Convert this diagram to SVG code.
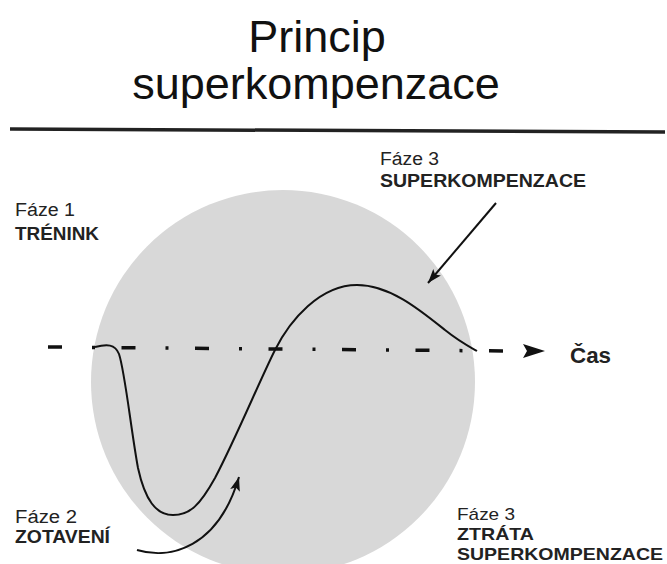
<svg xmlns="http://www.w3.org/2000/svg" width="667" height="564" viewBox="0 0 667 564">
<style>
.title{font-family:"Liberation Sans",Arial,sans-serif;font-size:45px;fill:#111;text-anchor:middle}
.lbl{font-family:"Liberation Sans",Arial,sans-serif;font-size:18px;fill:#222}
.sm{font-size:17px}
.b{font-weight:bold}
.ln{fill:none;stroke:#111;stroke-width:2}
</style>
<defs>
<marker id="ah" markerUnits="userSpaceOnUse" viewBox="0 0 14 10" markerWidth="14" markerHeight="10" refX="14" refY="5" orient="auto">
<path d="M0,0 L14,5 L0,10 L3,5 Z" fill="#111"/>
</marker>
</defs>
<rect width="667" height="564" fill="#ffffff"/>
<g id="title">
<text class="title" x="317" y="52">Princip</text>
<text class="title" x="316" y="99">superkompenzace</text>
<path d="M10 129 L665 132" stroke="#222" stroke-width="3.5" fill="none"/>
</g>
<g id="circle">
<circle cx="283" cy="382" r="192" fill="#d8d8d8"/>
</g>
<g id="connectors">
<path id="axis" d="M48 347 L504 351" fill="none" stroke="#111" stroke-width="3.5" stroke-dasharray="14 30 3 26.5"/>
<polygon points="523,344 545,351 523,358 527,351" fill="#111"/>
<path id="curve" class="ln" d="M95 347 C107 344,115 344,119 354 C125 372,131 430,138 468 C145 500,156 515,173 515 C190 515,200 505,215 478 C235 440,260 380,275 350 C290 320,320 285,357 285 C390 285,420 310,445 330 C460 342,470 347,477 351"/>
<path id="arrow3" class="ln" d="M496 203 L428 283" marker-end="url(#ah)"/>
<path id="arrow2" class="ln" d="M137 550 C170 560,218 548,239 477" marker-end="url(#ah)"/>
</g>
<g id="label-faze1">
<text class="lbl" x="15" y="216" textLength="60" lengthAdjust="spacingAndGlyphs">Fáze 1</text>
<text class="lbl b" x="15" y="240" textLength="84" lengthAdjust="spacingAndGlyphs">TRÉNINK</text>
</g>
<g id="label-faze3">
<text class="lbl" x="380" y="165" textLength="59" lengthAdjust="spacingAndGlyphs">Fáze 3</text>
<text class="lbl b" x="380" y="187" textLength="206" lengthAdjust="spacingAndGlyphs">SUPERKOMPENZACE</text>
</g>
<g id="label-faze2">
<text class="lbl" x="15" y="523" textLength="62" lengthAdjust="spacingAndGlyphs">Fáze 2</text>
<text class="lbl b" x="15" y="543" textLength="95" lengthAdjust="spacingAndGlyphs">ZOTAVENÍ</text>
</g>
<g id="label-faze3b">
<text class="lbl sm" x="457" y="520" textLength="58" lengthAdjust="spacingAndGlyphs">Fáze 3</text>
<text class="lbl b sm" x="457" y="540" textLength="77" lengthAdjust="spacingAndGlyphs">ZTRÁTA</text>
<text class="lbl b sm" x="457" y="560" textLength="206" lengthAdjust="spacingAndGlyphs">SUPERKOMPENZACE</text>
</g>
<g id="label-cas">
<text class="lbl b" x="570" y="363" style="font-size:22px" textLength="41" lengthAdjust="spacingAndGlyphs">Čas</text>
</g>
</svg>
